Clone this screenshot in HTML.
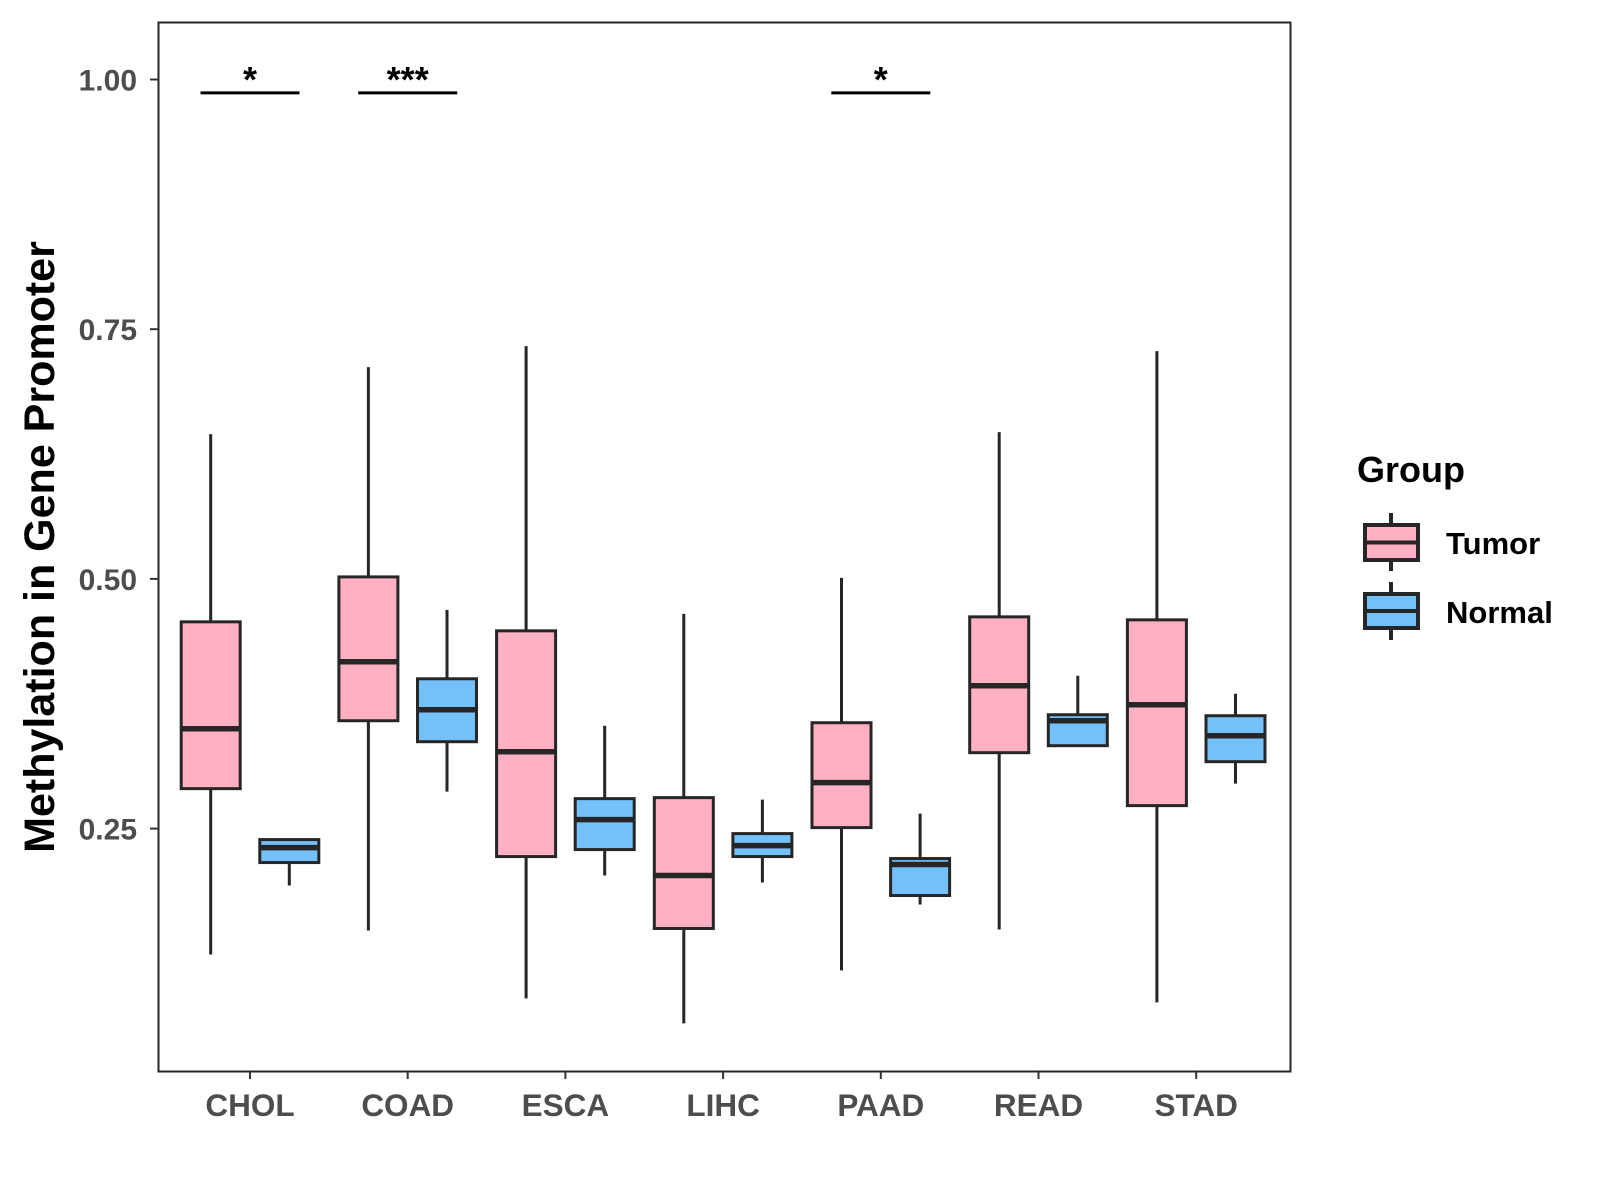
<!DOCTYPE html>
<html><head><meta charset="utf-8"><style>
body{margin:0;background:#fff;}
svg{display:block;font-family:"Liberation Sans",Arial,sans-serif;font-weight:bold;}
</style></head><body>
<svg id="chart" width="1600" height="1200" viewBox="0 0 1600 1200">
<rect x="158.5" y="22.5" width="1132" height="1049" fill="#fff" stroke="#262626" stroke-width="2"/>
<g id="marks"></g>
<g id="axes"></g>
<text transform="translate(54,547) rotate(-90)" text-anchor="middle" font-size="43" fill="#000">Methylation in Gene Promoter</text>
<g>
<text x="1357" y="482" font-size="36" fill="#000">Group</text>
<g>
<line x1="1391" y1="513" x2="1391" y2="571" stroke="#262626" stroke-width="4"/>
<rect x="1365" y="525" width="53" height="35" fill="#FFB0C3" stroke="#262626" stroke-width="4"/>
<line x1="1365" y1="542.5" x2="1418" y2="542.5" stroke="#262626" stroke-width="4"/>
<text x="1446" y="554" font-size="31" fill="#000">Tumor</text>
</g>
<g>
<line x1="1391" y1="582" x2="1391" y2="640" stroke="#262626" stroke-width="4"/>
<rect x="1365" y="594" width="53" height="34" fill="#74C1FA" stroke="#262626" stroke-width="4"/>
<line x1="1365" y1="611" x2="1418" y2="611" stroke="#262626" stroke-width="4"/>
<text x="1446" y="623" font-size="31" fill="#000">Normal</text>
</g>
</g>
</svg>
<script>
const categories=["CHOL","COAD","ESCA","LIHC","PAAD","READ","STAD"];
const tumorLow=[0.124,0.148,0.080,0.055,0.108,0.149,0.076];
const tumorQ1=[0.290,0.358,0.222,0.150,0.251,0.326,0.273];
const tumorMed=[0.350,0.417,0.327,0.203,0.296,0.393,0.374];
const tumorQ3=[0.457,0.502,0.448,0.281,0.356,0.462,0.459];
const tumorHigh=[0.645,0.712,0.733,0.465,0.501,0.647,0.728];
const normalLow=[0.193,0.287,0.203,0.196,0.174,0.345,0.295];
const normalQ1=[0.216,0.337,0.229,0.222,0.183,0.333,0.317];
const normalMed=[0.231,0.369,0.259,0.233,0.214,0.358,0.343];
const normalQ3=[0.239,0.400,0.280,0.245,0.220,0.364,0.363];
const normalHigh=[0.240,0.469,0.353,0.279,0.265,0.403,0.385];
const signif=["*","***","","","*","",""];
const yTicks=[0.25,0.50,0.75,1.00];
const yTickLabels=["0.25","0.50","0.75","1.00"];

const NS="http://www.w3.org/2000/svg";
function y(v){return 828.6-(v-0.25)*998.8;}
function x(i){return 250+i*157.7;}
function mk(tag,attrs,parent){const e=document.createElementNS(NS,tag);for(const k in attrs)e.setAttribute(k,attrs[k]);parent.appendChild(e);return e;}
const marks=document.getElementById('marks');
const axes=document.getElementById('axes');
function box(cx,lo,q1,md,q3,hi,fill,name){
  const g=mk('g',{},marks);
  
  
  mk('line',{x1:cx,x2:cx,y1:y(hi),y2:y(lo),stroke:'#262626','stroke-width':3},g);
  mk('rect',{x:cx-29.5,y:y(q3),width:59,height:y(q1)-y(q3),fill:fill,stroke:'#262626','stroke-width':3},g);
  mk('line',{x1:cx-29.5,x2:cx+29.5,y1:y(md),y2:y(md),stroke:'#262626','stroke-width':5.5},g);
}
categories.forEach((c,i)=>{
  box(x(i)-39.3,tumorLow[i],tumorQ1[i],tumorMed[i],tumorQ3[i],tumorHigh[i],'#FFB0C3','box-tumor-'+c.toLowerCase());
  box(x(i)+39.3,normalLow[i],normalQ1[i],normalMed[i],normalQ3[i],normalHigh[i],'#74C1FA','box-normal-'+c.toLowerCase());
  const t=mk('line',{x1:x(i),x2:x(i),y1:1071,y2:1079,stroke:'#333','stroke-width':2},axes);
  
  
  const l=mk('text',{x:x(i),y:1116,'text-anchor':'middle','font-size':31.5,fill:'#4d4d4d'},axes);
  l.textContent=c;
  
  
  if(signif[i]){
    const sl=mk('line',{x1:x(i)-49.5,x2:x(i)+49.5,y1:92.9,y2:92.9,stroke:'#000','stroke-width':3},marks);
    
    
    const st=mk('text',{x:x(i),y:92,'text-anchor':'middle','font-size':36,fill:'#000'},marks);
    st.textContent=signif[i];
    
    
  }
});
yTicks.forEach((v,i)=>{
  const t=mk('line',{x1:150,x2:158,y1:y(v),y2:y(v),stroke:'#333','stroke-width':2},axes);
  
  
  const l=mk('text',{x:137,y:y(v)+11,'text-anchor':'end','font-size':30,fill:'#4d4d4d'},axes);
  l.textContent=yTickLabels[i];
  
  
});
</script>
</body></html>
